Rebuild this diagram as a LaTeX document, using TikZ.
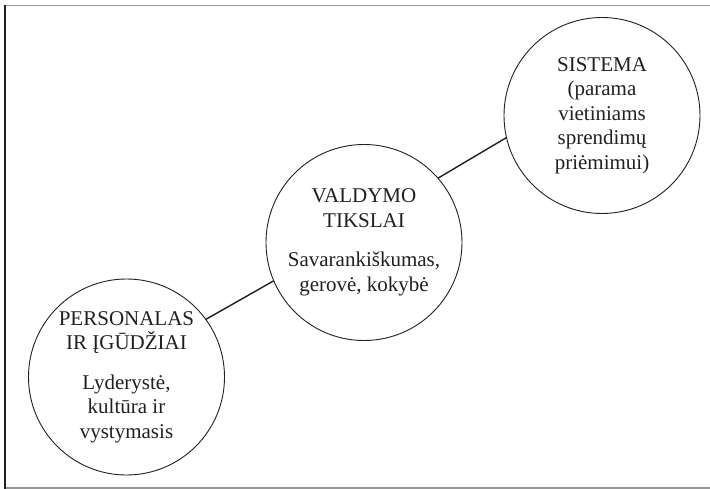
\documentclass[tikz,border=0pt]{standalone}
\usepackage{fontspec}
\setmainfont{Liberation Serif}
\definecolor{inkc}{RGB}{35,31,32}
\definecolor{framegray}{RGB}{150,150,150}
\tikzset{
  bubble/.style={circle, draw=inkc, line width=0.9pt, minimum size=196pt, inner sep=0pt, outer sep=0pt,
    align=center, text=inkc, font=\fontsize{21}{24.5}\selectfont},
  conn/.style={draw=inkc, line width=1.4pt},
  frameline/.style={draw=framegray, line width=1.4pt},
}
\begin{document}
\begin{tikzpicture}[x=1pt,y=-1pt]
\useasboundingbox (0,0) rectangle (710,489);
% frame
\draw[frameline] (5,5.5) -- (710,5.5);
\draw[frameline] (5,488) -- (710,488);
\draw[draw=inkc, line width=1.3pt] (5,4.8) -- (5,488.7);
% circles
\node[bubble] (pers) at (126.5,377) {PERSONALAS\\IR ĮGŪDŽIAI\\[15pt]Lyderystė,\\kultūra ir\\vystymasis};
\node[bubble] (vald) at (364,242.5) {VALDYMO\\TIKSLAI\\[15pt]Savarankiškumas,\\gerovė, kokybė};
\node[bubble] (sist) at (602,115.5) {SISTEMA\\(parama\\vietiniams\\sprendimų\\priėmimui)};
% connectors
\draw[conn] (pers.36) -- (vald.203);
\draw[conn] (vald.41) -- (sist.193);
\end{tikzpicture}
\end{document}
